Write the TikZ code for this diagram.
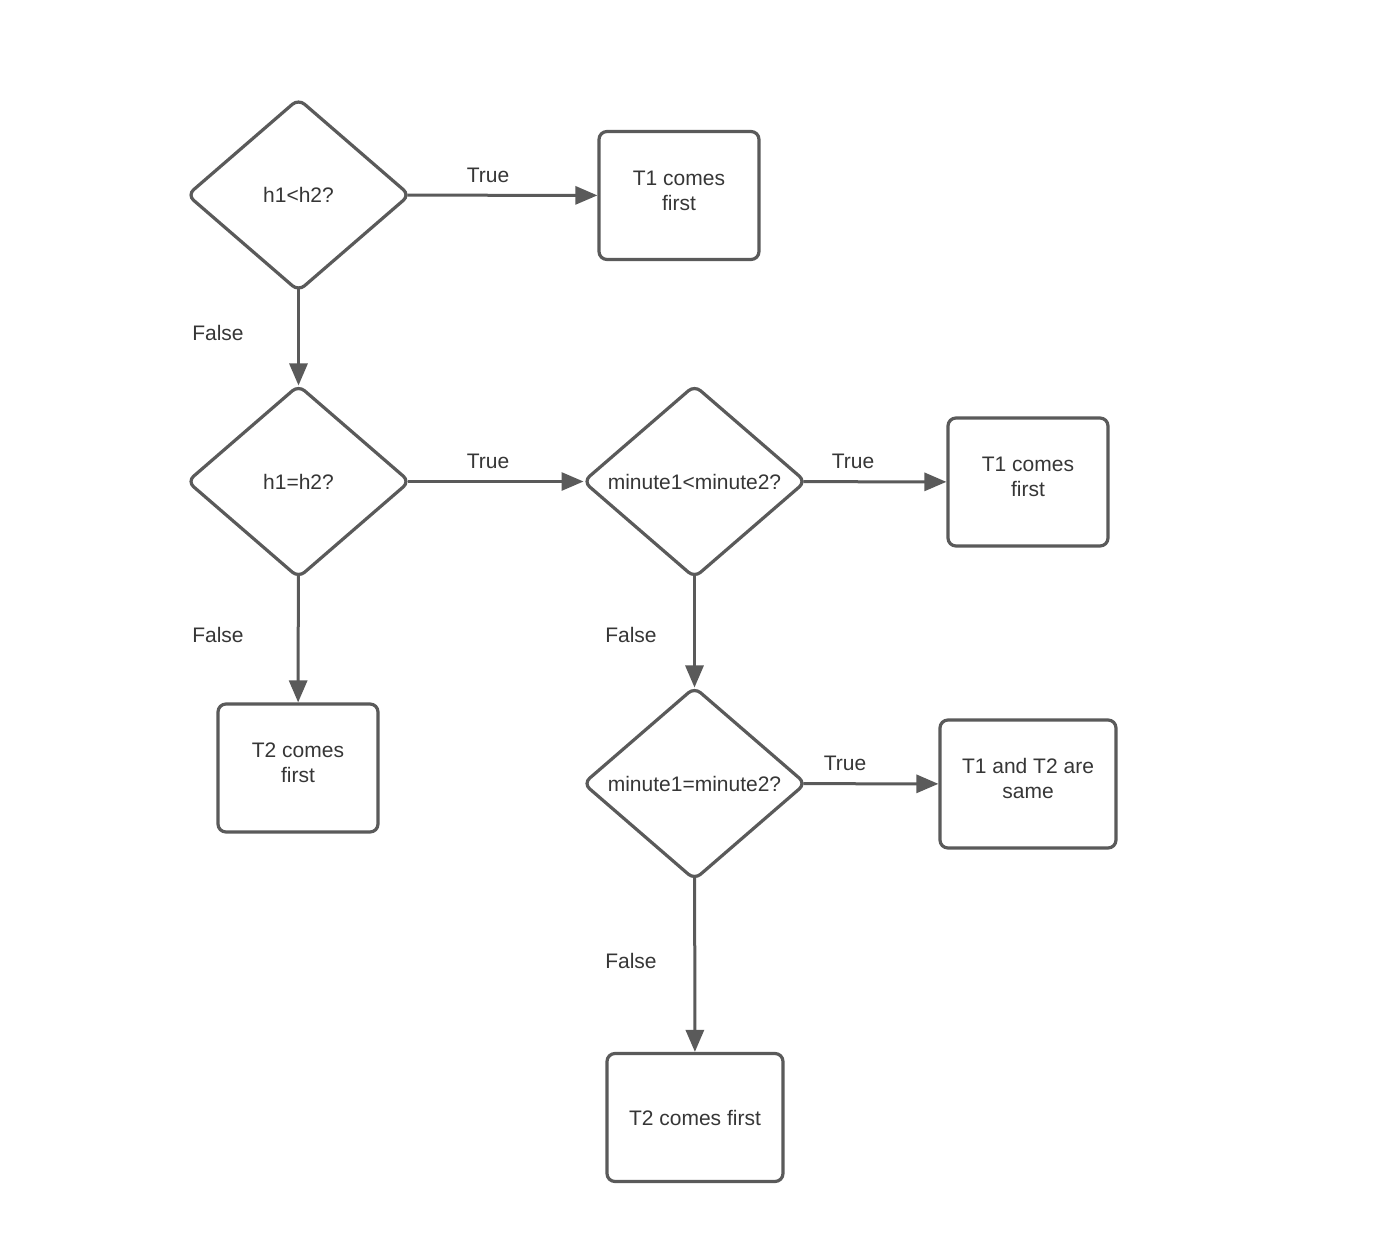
\documentclass[tikz,border=0pt]{standalone}
\usepackage{fontspec}
\setmainfont{Liberation Sans}
\usetikzlibrary{shapes.geometric,arrows.meta}
\definecolor{lc}{HTML}{5A5A5A}
\definecolor{tc}{HTML}{363636}
\newcommand{\twoline}[2]{\raisebox{1.5pt}[\height][\depth]{\begin{tabular}{@{}c@{}}#1\\#2\end{tabular}}}
\tikzset{
  px/.style={x=0.5pt,y=-0.5pt},
  decision/.style={diamond,draw=lc,line width=1.6pt,rounded corners=4pt,inner sep=0pt,outer sep=0pt,
    minimum width=111pt,minimum height=96pt,text=tc,font=\fontsize{10.5}{12.5}\selectfont,align=center},
  outbox/.style={rectangle,draw=lc,line width=1.6pt,rounded corners=4pt,inner sep=0pt,
    minimum height=64pt,text=tc,font=\fontsize{10.5}{12.5}\selectfont,align=center},
  conn/.style={draw=lc,line width=1.5pt,shorten <=-1pt,-{Triangle[length=11pt,width=9pt]}},
  lbl/.style={text=tc,font=\fontsize{10.5}{12.5}\selectfont,inner sep=0pt}
}
\begin{document}
\begin{tikzpicture}[px]
\useasboundingbox (0,0) rectangle (1398,1242);
\fill[white] (0,0) rectangle (1398,1242);
\node[decision] (d1) at (298.5,195) {h1<h2?};
\node[outbox,minimum width=80pt] (b1) at (679,195.5) {\twoline{T1 comes}{first}};
\node[decision] (d2) at (298.5,481.5) {h1=h2?};
\node[decision] (d3) at (694.5,481.5) {minute1<minute2?};
\node[outbox,minimum width=80pt] (b2) at (1028,482) {\twoline{T1 comes}{first}};
\node[outbox,minimum width=80pt] (b3) at (298,768) {\twoline{T2 comes}{first}};
\node[decision] (d4) at (694.5,783.5) {minute1=minute2?};
\node[outbox,minimum width=88pt] (b4) at (1028,784) {\twoline{T1 and T2 are}{same}};
\node[outbox,minimum width=88pt] (b5) at (695,1117.5) {T2 comes first};

\draw[conn] (d1) -- (b1);
\draw[conn] (d1) -- (d2);
\draw[conn] (d2) -- (d3);
\draw[conn] (d3) -- (b2);
\draw[conn] (d2) -- (b3);
\draw[conn] (d3) -- (d4);
\draw[conn] (d4) -- (b4);
\draw[conn] (d4) -- (b5);

\node[lbl] (t1) at (488,175) {True};
\node[lbl] (t2) at (488,461) {True};
\node[lbl] (t3) at (853,461) {True};
\node[lbl] (t4) at (845,763) {True};
\node[lbl] (f1) at (218,333) {False};
\node[lbl] (f2) at (218,635) {False};
\node[lbl] (f3) at (631,635) {False};
\node[lbl] (f4) at (631,961) {False};
\end{tikzpicture}
\end{document}
